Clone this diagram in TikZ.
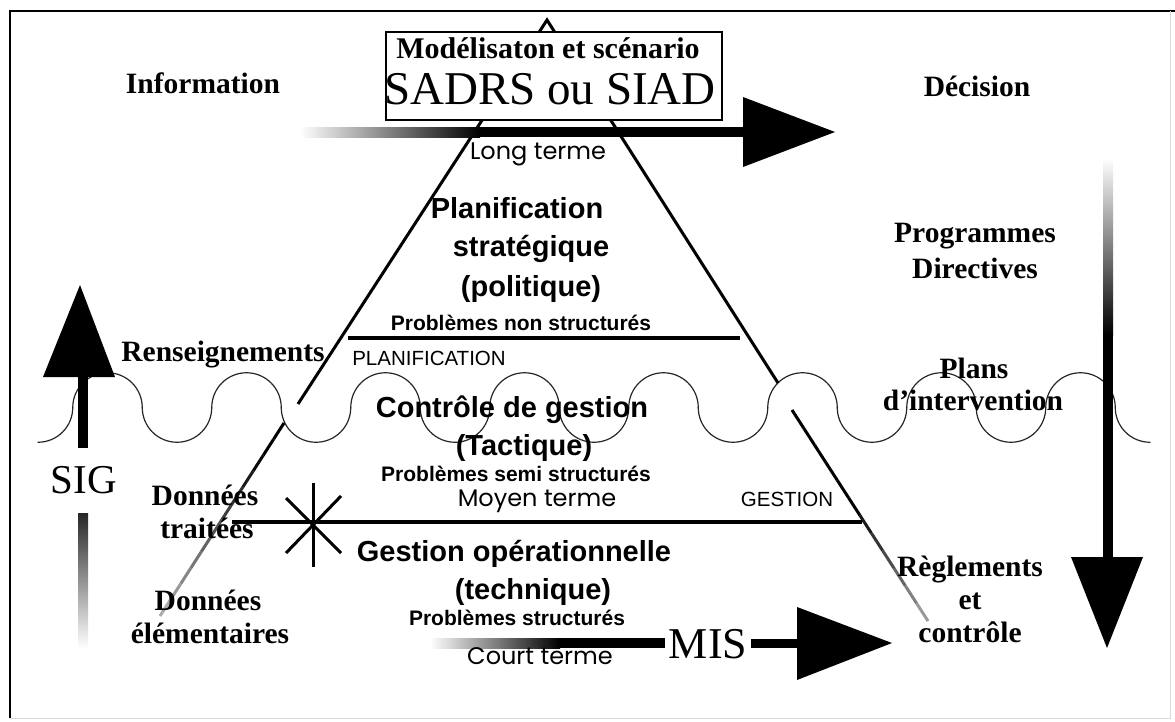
\documentclass[tikz,border=0pt]{standalone}
\usepackage{fontspec}
\setmainfont{Liberation Serif}
\setsansfont{Liberation Sans}
\newfontfamily\geofont{Poppins}
\usetikzlibrary{calc}

\tikzset{
  lbl/.style={inner sep=0pt, anchor=base},
  serifbold/.style={lbl, font=\fontsize{29.5}{33}\selectfont\bfseries},
  serifbig/.style={lbl, font=\fontsize{47}{50}\selectfont},
  sanshead/.style={lbl, font=\sffamily\bfseries\fontsize{29}{33}\selectfont},
  sanssmall/.style={lbl, font=\sffamily\bfseries\fontsize{21}{24}\selectfont},
  sanscaps/.style={lbl, font=\sffamily\fontsize{20.5}{24}\selectfont},
  termlbl/.style={lbl, font=\geofont\fontsize{24}{28}\selectfont},
  edge/.style={line width=3pt},
  wave/.style={line width=1.2pt, black!85, line cap=round},
  bar/.style={line width=4.5pt},
}

\begin{document}
\begin{tikzpicture}[x=1pt, y=-1pt]
\useasboundingbox (0,0) rectangle (1175,721);

% frame
\draw[line width=1.5pt] (10,718) -- (10,11) -- (1175,11);
\draw[black!15, line width=0.8pt] (1170,11) -- (1170,718) -- (10,718);

% wavy boundary between planning and management (chain of half circles)
\draw[wave] (38,442.25) .. controls (57.19,442.25) and (72.75,426.69) .. (72.75,407.5);
\foreach \a in {72.75, 211.75, ..., 1045.75}
  \draw[wave] (\a,407.5) .. controls (\a,388.31) and ({\a+15.56},372.75) .. ({\a+34.75},372.75)
              .. controls ({\a+53.94},372.75) and ({\a+69.5},388.31) .. ({\a+69.5},407.5);
\foreach \b in {142.25, 281.25, ..., 976.25}
  \draw[wave] (\b,407.5) .. controls (\b,426.69) and ({\b+15.56},442.25) .. ({\b+34.75},442.25)
              .. controls ({\b+53.94},442.25) and ({\b+69.5},426.69) .. ({\b+69.5},407.5);
\draw[wave] (1115.25,407.5) .. controls (1115.25,426.69) and (1130.81,442.25) .. (1150,442.25);

% pyramid
\coordinate (apex) at (547,20);
\coordinate (leftUpEnd) at (298,404);
\coordinate (rightUpEnd) at (778,383);
\coordinate (leftLowStart) at (284,423);
\coordinate (leftLowEnd) at (160,616);
\coordinate (rightLowStart) at (792,410);
\coordinate (rightLowEnd) at (928,621);
\draw[edge] (leftUpEnd) -- (apex) -- (rightUpEnd);
\foreach \j in {0,...,11} {
  \pgfmathtruncatemacro\lv{min(100,110-7*\j)}
  \pgfmathtruncatemacro\rv{min(100,150-10*\j)}
  \draw[edge, black!\lv] ($(leftLowStart)!{\j/12}!(leftLowEnd)$) -- ($(leftLowStart)!{(\j+1)/12}!(leftLowEnd)$);
  \draw[edge, black!\rv] ($(rightLowStart)!{\j/12}!(rightLowEnd)$) -- ($(rightLowStart)!{(\j+1)/12}!(rightLowEnd)$);
}

% level separators
\coordinate (sepTopL) at (348,338);
\coordinate (sepTopR) at (740,338);
\coordinate (sepMidL) at (232,522);
\coordinate (sepMidR) at (862,522);
\draw[bar] (sepTopL) -- (sepTopR);
\draw[bar] (sepMidL) -- (sepMidR);

% asterisk on the middle separator
\coordinate (star) at (313,526);
\draw[line width=3pt] ($(star)+(0,-43)$) -- ($(star)+(0,41)$);
\draw[line width=3pt] ($(star)+(-27,-28)$) -- ($(star)+(28,27)$);
\draw[line width=3pt] ($(star)+(28,-30)$) -- ($(star)+(-27,27)$);

% decision support box at the apex
\node[draw, fill=white, line width=1.6pt, minimum width=336pt, minimum height=88pt, inner sep=0pt] (sadrsBox) at (554,76) {};
\node[lbl, font=\fontsize{30}{33}\selectfont\bfseries] (modTitle) at (548,58) {Modélisaton et scénario};
\node[serifbig] (sadrs) at (550,104) {SADRS ou SIAD};

% information -> decision arrow
\coordinate (decStart) at (300,132);
\coordinate (decSolid) at (480,132);
\coordinate (decHead) at (743,132);
\coordinate (decTip) at (835,132);
\shade[left color=white, right color=black] ($(decStart)+(0,-5)$) rectangle ($(decSolid)+(0,5)$);
\fill ($(decSolid)+(0,-5)$) rectangle ($(decHead)+(0,5)$);
\fill ($(decHead)+(0,-35)$) -- (decTip) -- ($(decHead)+(0,35)$) -- cycle;

% SIG arrow (upwards)
\coordinate (sigBase) at (83,448);
\coordinate (sigHead) at (83,377);
\coordinate (sigTip) at (80,285);
\fill ($(sigBase)+(-5,0)$) rectangle ($(sigHead)+(5,0)$);
\fill ($(sigHead)+(-40,0)$) -- (sigTip) -- ($(sigHead)+(32,0)$) -- cycle;
\shade[top color=black!85, bottom color=white] (78,513) rectangle (88,648);
\node[lbl, font=\fontsize{41}{44}\selectfont] (sig) at (84,493) {SIG};

% decision arrow (downwards)
\coordinate (dirTop) at (1108,158);
\coordinate (dirSolid) at (1108,335);
\coordinate (dirHead) at (1108,557);
\coordinate (dirTip) at (1107,648);
\shade[top color=white, bottom color=black] ($(dirTop)+(-5,0)$) rectangle ($(dirSolid)+(5,0)$);
\fill ($(dirSolid)+(-5,0)$) rectangle ($(dirHead)+(5,0)$);
\fill ($(dirHead)+(-37,0)$) -- (dirTip) -- ($(dirHead)+(35,0)$) -- cycle;

% MIS arrow
\node[lbl, font=\fontsize{44}{48}\selectfont] (mis) at (708,658) {MIS};
\coordinate (misStart) at (430,643);
\coordinate (misSolid) at (560,643);
\coordinate (misHead) at (797,643);
\coordinate (misTip) at (892,643);
\shade[left color=white, right color=black] ($(misStart)+(0,-5)$) rectangle ($(misSolid)+(0,5)$);
\fill ($(misSolid)+(0,-5)$) rectangle ($(mis.west |- misSolid)+(-4,5)$);
\fill ($(mis.east |- misHead)+(4,-4.5)$) rectangle ($(misHead)+(0,4.5)$);
\fill ($(misHead)+(0,-36)$) -- (misTip) -- ($(misHead)+(0,37)$) -- cycle;

% side labels
\node[serifbold] (info) at (203,93) {Information};
\node[serifbold] (decision) at (977,96) {Décision};
\node[serifbold] (renseign) at (223,361) {Renseignements};
\node[serifbold] (donT1) at (205,505) {Données};
\node[serifbold] (donT2) at (207,538) {traitées};
\node[serifbold] (donE1) at (208,610) {Données};
\node[serifbold] (donE2) at (210,643) {élémentaires};
\node[serifbold] (prog) at (975,242) {Programmes};
\node[serifbold] (direct) at (975,278) {Directives};
\node[serifbold] (plans) at (974,378) {Plans};
\node[serifbold] (interv) at (973,410) {d’intervention};
\node[serifbold] (regl) at (970,576) {Règlements};
\node[serifbold] (reglEt) at (970,609) {et};
\node[serifbold] (reglCtl) at (970,642) {contrôle};

% pyramid levels
\node[termlbl] (longT) at (538,159) {Long terme};
\node[sanshead] (strat1) at (517,218) {Planification};
\node[sanshead] (strat2) at (531,256) {stratégique};
\node[sanshead] (strat3) at (531,296) {(politique)};
\node[sanssmall] (pbNon) at (521,330) {Problèmes non structurés};
\node[sanscaps] (planif) at (429,365) {PLANIFICATION};
\node[sanshead] (ctrl1) at (512,417) {Contrôle de gestion};
\node[sanshead] (ctrl2) at (524,455) {(Tactique)};
\node[sanssmall] (pbSemi) at (516,481) {Problèmes semi structurés};
\node[termlbl] (moyenT) at (537,506) {Moyen terme};
\node[sanscaps] (gestion) at (787,506) {GESTION};
\node[sanshead] (oper1) at (514,561) {Gestion opérationnelle};
\node[sanshead] (oper2) at (533,599) {(technique)};
\node[sanssmall] (pbStr) at (517,625) {Problèmes structurés};
\node[termlbl] (courtT) at (540,664) {Court terme};
\end{tikzpicture}
\end{document}
